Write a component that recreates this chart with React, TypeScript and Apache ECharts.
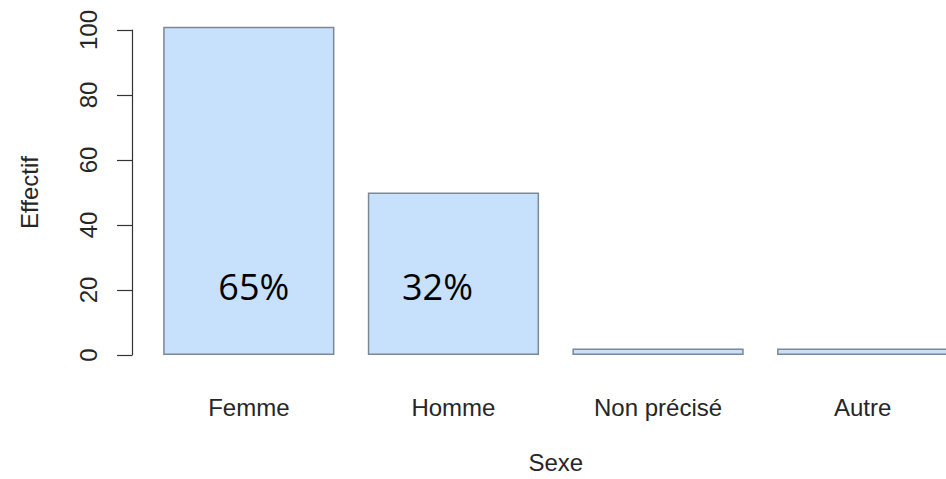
import React, { useEffect, useRef } from "react";
import * as echarts from "echarts";

const categories = ["Femme", "Homme", "Non précisé", "Autre"];
const values = [101, 50, 2, 2];
const pctLabels = ["65%", "32%", "", ""];
const yTicks = { min: 0, max: 100, interval: 20 };
const xTitle = "Sexe";
const yTitle = "Effectif";

const labelOffsets = [[5, 0], [-16, 0], [0, 0], [0, 0]];

export default function App() {
  const ref = useRef<HTMLDivElement>(null);
  useEffect(() => {
    document.body.style.margin = "0";
    document.body.style.overflow = "hidden";
    const chart = echarts.init(ref.current!, null, { renderer: "svg" });
    const font = "'Liberation Sans', Arial, Helvetica, sans-serif";
    chart.setOption({
      animation: false,
      backgroundColor: "#ffffff",
      grid: { left: 146.5, right: 0, top: 30, bottom: 124, containLabel: false },
      xAxis: {
        type: "category",
        data: categories,
        name: xTitle,
        nameLocation: "middle",
        nameGap: 95,
        nameTextStyle: { fontFamily: font, fontSize: 24, color: "#262626", verticalAlign: "top" },
        axisLine: { show: false },
        axisTick: { show: false },
        axisLabel: { fontFamily: font, fontSize: 24, color: "#262626", margin: 40 },
      },
      yAxis: {
        type: "value",
        min: yTicks.min,
        max: yTicks.max,
        interval: yTicks.interval,
        offset: 14.5,
        name: yTitle,
        nameLocation: "middle",
        nameGap: 91,
        nameTextStyle: { fontFamily: font, fontSize: 24, color: "#262626" },
        axisLine: { show: true, lineStyle: { color: "#333333", width: 1.2 } },
        axisTick: { show: true, length: 15, lineStyle: { color: "#333333", width: 1.2 } },
        axisLabel: { fontFamily: font, fontSize: 24, color: "#262626", rotate: 90, margin: 32 },
        splitLine: { show: false },
      },
      series: [
        {
          type: "bar",
          data: values.map((v, i) => ({
            value: v,
            label: {
              show: pctLabels[i] !== "",
              offset: labelOffsets[i],
            },
          })),
          barCategoryGap: "16.3%",
          clip: false,
          itemStyle: { color: "#c7e1fc", borderColor: "#7d8796", borderWidth: 1.5 },
          label: {
            show: true,
            position: "insideBottom",
            distance: 51,
            formatter: (p: any) => pctLabels[p.dataIndex],
            fontFamily: "'Open Sans', 'Noto Sans', sans-serif",
            fontSize: 36,
            lineHeight: 36,
            color: "#000000",
          },
        },
      ],
    });
    return () => chart.dispose();
  }, []);
  return <div ref={ref} style={{ width: 965, height: 479 }} />;
}
